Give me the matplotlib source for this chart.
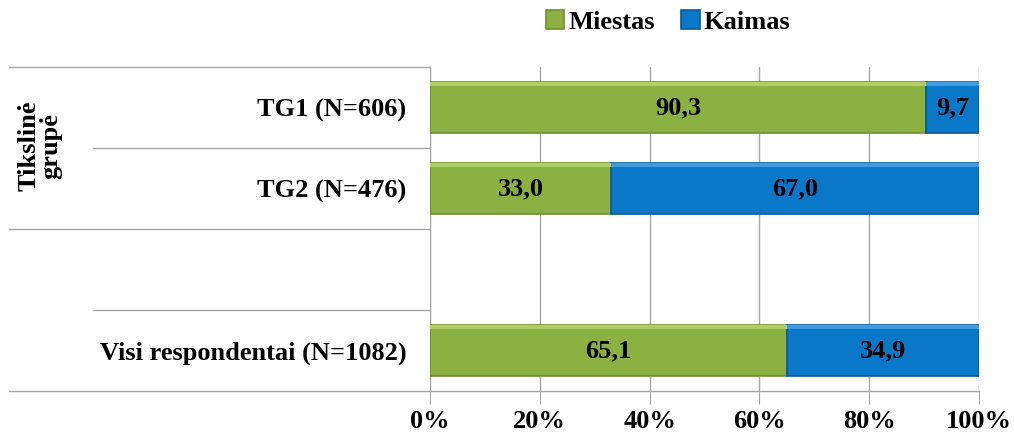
import matplotlib.pyplot as plt
from matplotlib.transforms import blended_transform_factory

# Data
groups = ["TG1 (N=606)", "TG2 (N=476)", "", "Visi respondentai (N=1082)"]
miestas = [90.3, 33.0, None, 65.1]
kaimas = [9.7, 67.0, None, 34.9]
xticks = [0, 20, 40, 60, 80, 100]
group_title = "Tikslinė\ngrupė"

# Style
font = "Liberation Serif"
fs = 19
green = "#8db042"
blue = "#0a78c8"
gridc = "#a6a6a6"

plt.rcParams['font.family'] = font
plt.rcParams['font.weight'] = 'bold'

fig = plt.figure(figsize=(10.14, 4.34), dpi=100)
ax = fig.add_axes([430 / 1014, 43 / 434, 549 / 1014, 324 / 434])

ypos = [len(groups) - 1 - i for i in range(len(groups))]
idx = [i for i, g in enumerate(groups) if g]
ys = [ypos[i] for i in idx]
m = [miestas[i] for i in idx]
k = [kaimas[i] for i in idx]

b1 = ax.barh(ys, m, height=0.64, color=green, edgecolor="#6f8f2c", linewidth=1.2,
             label="Miestas", zorder=3)
b2 = ax.barh(ys, k, left=m, height=0.64, color=blue, edgecolor="#075a98", linewidth=1.2,
             label="Kaimas", zorder=3)
# subtle bevel along the top of each bar
ax.barh([y + 0.285 for y in ys], m, height=0.05, color="#b0cf62", linewidth=0, zorder=4)
ax.barh([y + 0.285 for y in ys], k, left=m, height=0.05, color="#3f9ce0", linewidth=0, zorder=4)
ax.bar_label(b1, labels=[f"{v:.1f}".replace(".", ",") for v in m], label_type="center",
             fontsize=fs, fontweight="bold", color="black")
ax.bar_label(b2, labels=[f"{v:.1f}".replace(".", ",") for v in k], label_type="center",
             fontsize=fs, fontweight="bold", color="black")

ax.set_xlim(0, 100)
ax.set_ylim(-0.5, len(groups) - 0.5)
ax.set_xticks(xticks)
ax.set_xticklabels([f"{t}%" for t in xticks], fontsize=fs, fontweight="bold")
ax.set_yticks(ypos)
ax.set_yticklabels(groups, fontsize=fs, fontweight="bold")
ax.tick_params(axis="y", length=0, pad=17)
ax.tick_params(axis="x", length=9, color=gridc, pad=5)
ax.grid(axis="x", color=gridc, linewidth=1, zorder=0)

for s in ["top", "right", "bottom"]:
    ax.spines[s].set_visible(False)
ax.spines["left"].set_color(gridc)

# category separator lines
tr = blended_transform_factory(ax.transAxes, ax.transData)
for j, yb in enumerate([len(groups) - 0.5 - i for i in range(len(groups) + 1)]):
    x0 = -0.767 if j % 2 == 0 else -0.614
    ax.plot([x0, 0], [yb, yb], color=gridc, linewidth=1, transform=tr, clip_on=False)
# bottom axis line
ax.plot([0, 1], [-0.5, -0.5], color=gridc, linewidth=1, transform=tr, clip_on=False)

fig.text(40 / 1014, 1 - 146 / 434, group_title, rotation=90, ha="center", va="center",
         fontsize=fs, fontweight="bold", linespacing=0.9)

ax.legend(handles=[b1, b2], loc="center", bbox_to_anchor=(668 / 1014, 1 - 22 / 434),
          bbox_transform=fig.transFigure, ncol=2, frameon=False,
          prop={"family": font, "weight": "bold", "size": fs},
          handlelength=0.7, handleheight=0.7, handletextpad=0.15, columnspacing=1.0)

fig.savefig("out.png", dpi=100)
